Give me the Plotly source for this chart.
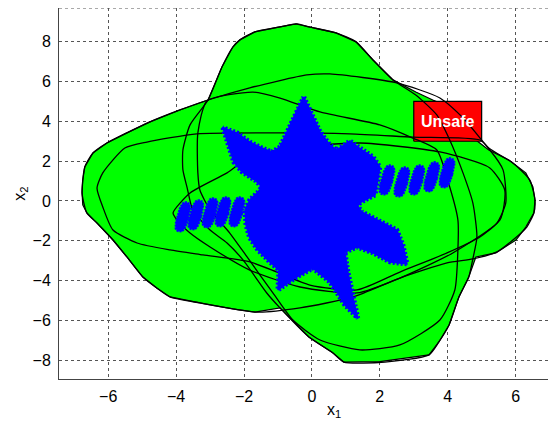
import numpy as np
import plotly.graph_objects as go

# ---------------- data ----------------
# outer boundary of the green (reachable) region
green_x = [-0.94, -1.68, -2.12, -2.33, -2.65, -3.06, -3.89, -4.77, -5.45, -6.04, -6.45, -6.69, -6.75,
           -6.77, -6.75, -6.63, -6.33, -5.86, -5.45, -4.98, -4.57, -4.18, -3.30, -2.33, -1.68, -0.94,
           -0.09, 0.62, 0.94, 2.00, 3.45, 3.74, 4.04, 4.33, 4.62, 4.83, 5.42, 6.01, 6.30, 6.54, 6.57,
           6.51, 6.30, 5.80, 5.21, 4.83, 3.77, 3.56, 3.06, 2.39, 1.80, 1.30, 0.71, -0.09, -0.47]
green_y = [8.74, 8.49, 8.09, 7.73, 6.73, 5.07, 4.57, 3.97, 3.42, 2.91, 2.41, 1.71, 1.05,
           0.40, -0.20, -0.60, -1.11, -1.96, -2.81, -3.82, -4.37, -4.82, -5.12, -5.42, -5.58, -5.37,
           -6.83, -7.63, -8.09, -8.07, -7.73, -7.08, -6.23, -4.82, -3.82, -2.81, -2.61, -1.96, -1.31, -0.60, 0.05,
           0.70, 1.41, 2.06, 2.56, 3.06, 4.92, 5.07, 5.47, 6.08, 7.08, 7.99, 8.44, 8.74, 8.89]

# individual set boundaries (black curves)
loopA_x = [-6.77, -6.69, -6.45, -6.04, -5.45, -4.77, -3.89, -3.06, -1.83, -0.15, 0.53, 2.50, 3.77, 4.51,
           5.21, 5.92, 6.42, 6.57, 6.54, 6.33, 5.92, 5.45, 4.74, 3.98, 2.59, 1.21, -0.35, -1.62, -3.30,
           -4.18, -4.57, -4.98, -5.45, -5.86, -6.33, -6.63]
loopA_y = [0.40, 1.71, 2.41, 2.91, 3.42, 3.97, 4.57, 5.07, 5.68, 6.33, 6.38, 5.93, 5.17, 4.07,
           2.66, 1.91, 1.05, 0.05, -0.60, -1.31, -1.96, -2.56, -2.91, -3.11, -3.87, -4.82, -5.37, -5.58, -5.12,
           -4.82, -4.37, -3.82, -2.81, -1.96, -1.11, -0.60]

loopB_x = [-6.33, -6.16, -5.51, -4.86, -3.39, -0.94, 1.12, 2.97, 4.95, 5.24, 5.63, 5.71, 5.45, 4.95,
           3.98, 2.59, 1.33, -0.06, -1.03, -1.83, -3.21, -4.18, -5.15, -5.86, -6.16]
loopB_y = [0.65, 1.41, 2.66, 2.96, 3.37, 3.42, 3.37, 3.21, 3.06, 2.56, 1.56, -0.10, -1.11, -1.81,
           -2.61, -3.57, -4.47, -4.22, -3.57, -3.06, -2.71, -2.46, -2.11, -1.46, -0.30]

loopV_x = [-2.33, -2.12, -1.68, -0.94, -0.44, -0.09, 0.71, 1.30, 1.80, 2.39, 3.06, 3.68, 4.06, 4.45,
           4.74, 4.86, 4.74, 4.62, 4.33, 4.04, 3.74, 3.45, 2.15, 0.94, 0.62, -0.09, -0.94, -1.33, -2.03,
           -2.50, -3.00, -3.51, -3.68, -3.80, -3.80, -3.59, -3.06, -2.65]
loopV_y = [7.73, 8.09, 8.49, 8.74, 8.89, 8.74, 8.44, 7.99, 7.08, 6.08, 5.32, 4.32, 3.06, 1.41,
           -0.10, -1.81, -2.91, -3.82, -4.82, -6.23, -7.08, -7.73, -8.09, -8.09, -7.63, -6.83, -5.37, -4.62, -2.96,
           -2.11, -1.46, -0.45, 0.70, 1.56, 2.56, 3.82, 5.07, 6.73]

loopT_x = [-3.09, -1.74, -0.94, 0.24, 2.00, 2.97, 3.68, 4.06, 4.30, 4.30, 4.21, 3.77, 2.59, 1.41,
           0.24, -0.56, -1.15, -1.91, -2.42, -3.00, -3.30, -3.36, -3.36]
loopT_y = [5.02, 5.47, 5.17, 4.47, 3.82, 3.16, 2.56, 0.70, -0.95, -2.46, -4.47, -5.98, -7.23, -7.48,
           -6.98, -5.98, -4.62, -2.81, -1.61, -0.45, 0.55, 1.41, 3.42]

loopS_x = [-4.09, -3.59, -2.50, -1.83, -0.65, 1.41, 3.77, 5.24, 5.68, 5.54, 4.15, 2.59, 1.33,
           -0.35, -1.83, -3.00, -3.59, -3.98]
loopS_y = [-0.60, 0.40, 1.41, 2.21, 2.66, 2.91, 2.46, 1.66, 0.55, -0.95, -2.61, -3.87, -4.62,
           -4.32, -3.47, -2.31, -1.61, -0.95]

# blue (star-shaped) region
blue_x = [-0.24, 0.00, 0.24, 0.53, 0.74, 1.12, 1.47, 1.80, 2.00, 1.94, 1.86, 1.56, 1.33, 1.47, 1.91,
          2.50, 2.68, 2.80, 2.30, 1.80, 1.33, 0.97, 1.06, 1.21, 1.35, 0.97, 0.74, 0.53, 0.03, -0.50,
          -1.00, -0.97, -1.24, -1.59, -1.83, -1.94, -1.97, -1.83, -1.59, -1.47, -1.68, -2.06, -2.30,
          -2.44, -2.62, -2.21, -1.83, -1.47, -1.18, -0.94, -0.71, -0.44]
blue_y = [5.22, 4.32, 3.47, 2.81, 2.56, 3.01, 2.56, 2.21, 1.71, 1.05, 0.30, 0.05, -0.20, -0.55, -0.95,
          -1.46, -2.21, -3.16, -3.06, -2.61, -2.31, -2.56, -3.57, -4.87, -5.88, -5.22, -4.57, -4.07, -3.37, -3.87,
          -4.47, -3.47, -3.06, -2.46, -1.86, -1.21, -0.45, 0.05, 0.45, 0.70, 1.05, 1.46, 1.96,
          2.66, 3.67, 3.42, 2.96, 2.66, 2.46, 2.71, 3.57, 4.57]

# blue stripe centres
stripeL_x = [-3.80, -3.42, -3.00, -2.62, -2.21]
stripeL_y = [-0.80, -0.70, -0.60, -0.55, -0.55]
stripeR_x = [2.21, 2.65, 3.09, 3.53, 3.98]
stripeR_y = [1.05, 0.95, 1.05, 1.21, 1.41]

# unsafe set
unsafe_x = [3.0, 5.0]
unsafe_y = [3.0, 5.0]
unsafe_label = "Unsafe"

x_ticks = [-6, -4, -2, 0, 2, 4, 6]
y_ticks = [-8, -6, -4, -2, 0, 2, 4, 6, 8]

# ---------------- layout constants ----------------
# (the page body adds an 8px offset, the figure is sized to compensate)
W, H = 548, 413
ML, MR, MT, MB = 51, 0, 0, 42
XR = [-7.45, 7.19]
YR = [-8.94, 9.69]
FONT = "Liberation Sans, Arial, sans-serif"

dpx = (XR[1] - XR[0]) / (W - ML - MR)   # data per pixel (x)
dpy = (YR[1] - YR[0]) / (H - MT - MB)   # data per pixel (y)


def closed(xs, ys):
    return list(xs) + [xs[0]], list(ys) + [ys[0]]


fig = go.Figure()

gx, gy = closed(green_x, green_y)
fig.add_trace(go.Scatter(x=gx, y=gy, mode="lines", fill="toself", fillcolor="#00ff00",
                         line=dict(color="black", width=1.2), hoverinfo="skip", showlegend=False))

ux = [unsafe_x[0], unsafe_x[1], unsafe_x[1], unsafe_x[0], unsafe_x[0]]
uy = [unsafe_y[0], unsafe_y[0], unsafe_y[1], unsafe_y[1], unsafe_y[0]]
fig.add_trace(go.Scatter(x=ux, y=uy, mode="lines", fill="toself", fillcolor="#ff0000",
                         line=dict(color="black", width=1.2), hoverinfo="skip", showlegend=False))

for lx, ly in [(loopA_x, loopA_y), (loopB_x, loopB_y), (loopV_x, loopV_y),
               (loopT_x, loopT_y), (loopS_x, loopS_y)]:
    cx, cy = closed(lx, ly)
    fig.add_trace(go.Scatter(x=cx, y=cy, mode="lines",
                             line=dict(color="black", width=1.3, shape="spline", smoothing=0.6),
                             hoverinfo="skip", showlegend=False))

bx, by = closed(blue_x, blue_y)
fig.add_trace(go.Scatter(x=bx, y=by, mode="lines", fill="toself", fillcolor="#0000ff",
                         line=dict(color="#0000ff", width=1.5), hoverinfo="skip", showlegend=False))
# ragged rim of the blue region
fig.add_trace(go.Scatter(x=bx, y=by, mode="lines",
                         line=dict(color="#0000ff", width=5, dash="2px,2px"),
                         hoverinfo="skip", showlegend=False))

# stripes: rounded blobs around each centre
t = np.linspace(0, 2 * np.pi, 48)
n = 3.0
u = 5.5 * np.sign(np.cos(t)) * np.abs(np.cos(t)) ** (2 / n)
v = 15.0 * np.sign(np.sin(t)) * np.abs(np.sin(t)) ** (2 / n)
phi = np.deg2rad(16)
ox = u * np.cos(phi) + v * np.sin(phi)
oy = -u * np.sin(phi) + v * np.cos(phi)
for sx, sy in list(zip(stripeL_x, stripeL_y)) + list(zip(stripeR_x, stripeR_y)):
    fig.add_trace(go.Scatter(x=sx + ox * dpx, y=sy + oy * dpy, mode="lines", fill="toself",
                             fillcolor="#0000ff", line=dict(color="#0000ff", width=2, dash="2px,1px"),
                             hoverinfo="skip", showlegend=False))

fig.add_annotation(x=sum(unsafe_x) / 2, y=sum(unsafe_y) / 2, text="<b>%s</b>" % unsafe_label,
                   showarrow=False, font=dict(family=FONT, size=16, color="white"))

# axis titles
fig.add_annotation(xref="paper", yref="paper", x=0.553, y=-0.085, text="x<sub>1</sub>",
                   showarrow=False, font=dict(family=FONT, size=16, color="black"),
                   xanchor="center", yanchor="middle")
fig.add_annotation(xref="paper", yref="paper", x=-0.078, y=0.5, text="x<sub>2</sub>", textangle=-90,
                   showarrow=False, font=dict(family=FONT, size=16, color="black"),
                   xanchor="center", yanchor="middle")

# top dotted border line
fig.add_shape(type="line", xref="paper", yref="paper", x0=0, x1=1, y0=1, y1=1,
              line=dict(color="#555555", width=1, dash="dot"))

fig.update_xaxes(range=XR, tickvals=x_ticks, showgrid=True, gridcolor="#555555", griddash="dot",
                 gridwidth=1, zeroline=False, showline=True, linecolor="#444444", linewidth=1,
                 ticks="", tickfont=dict(family=FONT, size=16, color="black"),
                 ticklabelstandoff=3)
fig.update_yaxes(range=YR, tickvals=y_ticks, showgrid=True, gridcolor="#555555", griddash="dot",
                 gridwidth=1, zeroline=False, showline=True, linecolor="#444444", linewidth=1,
                 ticks="", tickfont=dict(family=FONT, size=16, color="black"),
                 ticklabelstandoff=4)

fig.update_layout(width=W, height=H, margin=dict(l=ML, r=MR, t=MT, b=MB, autoexpand=False),
                  plot_bgcolor="white", paper_bgcolor="white", showlegend=False)

fig.write_html("out.html")
